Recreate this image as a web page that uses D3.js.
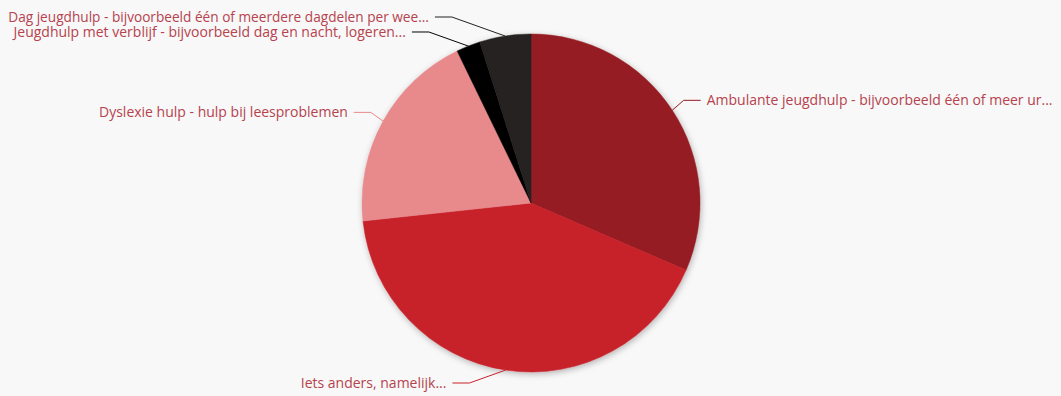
<!DOCTYPE html>
<html>
<head>
<meta charset="utf-8">
<script src="https://cdn.jsdelivr.net/npm/d3@7"></script>
<style>
  html, body { margin: 0; padding: 0; background: #f8f8f8; }
  svg { display: block; }
</style>
</head>
<body>
<svg id="chart" width="1061" height="396"></svg>
<script>
// Slice labels (as displayed, already shortened) and their shares in percent
const categories = [
  "Ambulante jeugdhulp - bijvoorbeeld één of meer ur...",
  "Iets anders, namelijk...",
  "Dyslexie hulp - hulp bij leesproblemen",
  "Jeugdhulp met verblijf - bijvoorbeeld dag en nacht, logeren...",
  "Dag jeugdhulp - bijvoorbeeld één of meerdere dagdelen per wee..."
];
const values = [31.5, 41.8, 19.5, 2.3, 4.9];
const colors = ["#951b20", "#c7232b", "#e8898c", "#030303", "#252020"];

(function () {
  const W = 1061, H = 396;
  const cx = 531, cy = 203, r = 169;

  const svg = d3.select("#chart");
  svg.append("rect").attr("width", W).attr("height", H).attr("fill", "#f8f8f8");

  const defs = svg.append("defs");
  const f = defs.append("filter").attr("id", "shadow")
    .attr("x", "-20%").attr("y", "-20%").attr("width", "140%").attr("height", "140%");
  f.append("feDropShadow").attr("dx", 1).attr("dy", 2).attr("stdDeviation", 3)
    .attr("flood-color", "#000").attr("flood-opacity", 0.28);

  const data = categories.map((c, i) => ({ name: c, value: values[i], color: colors[i] }));

  const pie = d3.pie().value(d => d.value).sort(null);
  const arcs = pie(data);
  const arc = d3.arc().innerRadius(0).outerRadius(r);

  const g = svg.append("g").attr("transform", `translate(${cx},${cy})`);
  g.append("g").attr("filter", "url(#shadow)")
    .selectAll("path").data(arcs).join("path")
    .attr("d", arc)
    .attr("fill", d => d.data.color)
    .attr("stroke", d => d.data.color)
    .attr("stroke-width", 0.5);

  // Label layout: natural height just outside the rim, then spread apart per side
  const labelR = r + 18, bendR = r + 15, spacing = 15, yMin = 17, yMax = 383;
  const items = arcs.map(a => {
    const mid = (a.startAngle + a.endAngle) / 2;
    return {
      a, mid,
      side: Math.sin(mid) >= 0 ? 1 : -1,
      ex: Math.sin(mid) * r, ey: -Math.cos(mid) * r,
      y: Math.max(yMin - cy, Math.min(yMax - cy, -Math.cos(mid) * labelR))
    };
  });

  [1, -1].forEach(side => {
    const grp = items.filter(d => d.side === side).sort((p, q) => p.y - q.y);
    for (let iter = 0; iter < 50; iter++) {
      let moved = false;
      for (let i = 1; i < grp.length; i++) {
        const overlap = grp[i - 1].y + spacing - grp[i].y;
        if (overlap > 0.01) {
          grp[i - 1].y -= overlap / 2;
          grp[i].y += overlap / 2;
          moved = true;
        }
      }
      grp.forEach(d => { d.y = Math.max(yMin - cy, Math.min(yMax - cy, d.y)); });
      if (!moved) break;
    }
  });

  items.forEach(d => {
    const dy = Math.abs(d.y - d.ey);
    const inside = bendR * bendR - d.y * d.y;
    d.bx = (dy < 12 && inside > 0) ? d.side * Math.sqrt(inside) : d.ex + d.side * 2.8 * dy;
    d.lx = d.bx + d.side * 17;
    d.tx = d.lx + d.side * 6;
  });

  const lbl = g.append("g");
  lbl.selectAll("path").data(items).join("path")
    .attr("d", d => `M${d.ex},${d.ey}L${d.bx},${d.y}L${d.lx},${d.y}`)
    .attr("fill", "none")
    .attr("stroke", d => d.a.data.color)
    .attr("stroke-width", 1);

  const baseSize = 14, margin = 8;
  lbl.selectAll("text").data(items).join("text")
    .attr("x", d => d.tx)
    .attr("y", d => d.y)
    .attr("dy", "0.35em")
    .attr("text-anchor", d => d.side > 0 ? "start" : "end")
    .attr("fill", "#b6424d")
    .attr("font-family", "'Open Sans', 'Noto Sans', sans-serif")
    .attr("font-size", baseSize + "px")
    .text(d => d.a.data.name)
    .each(function (d) {
      // shrink a label that would run past the chart edge
      const w = this.getComputedTextLength();
      const room = d.side > 0 ? (W - margin) - (cx + d.tx) : (cx + d.tx) - margin;
      if (w > room) d3.select(this).attr("font-size", (baseSize * room / w).toFixed(2) + "px");
    });
})();
</script>
</body>
</html>
